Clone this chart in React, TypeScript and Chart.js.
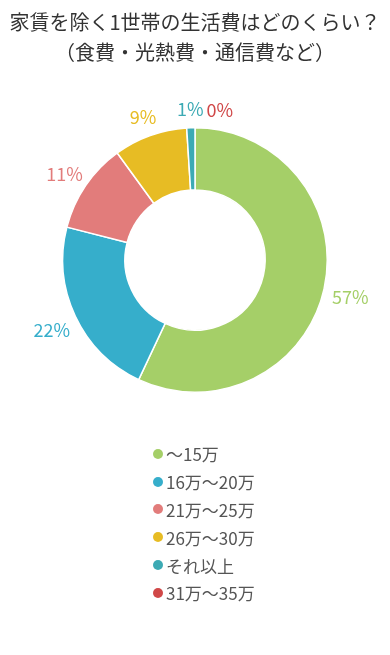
import React, { useEffect, useRef } from "react";
import { Chart, registerables } from "chart.js";

Chart.register(...registerables);

const titleLines = ["家賃を除く1世帯の生活費はどのくらい？", "（食費・光熱費・通信費など）"];
const categories = ["～15万", "16万～20万", "21万～25万", "26万～30万", "それ以上", "31万～35万"];
const values = [57, 22, 11, 9, 1, 0];
const colors = ["#a5cf68", "#36aecb", "#e27c7b", "#e7bc24", "#3caab4", "#d04848"];

const FONT = '"Noto Sans CJK JP", "Noto Sans", sans-serif';

const labelPlugin = {
  id: "outsideLabels",
  afterDatasetsDraw(chart: any) {
    const ctx = chart.ctx;
    const meta = chart.getDatasetMeta(0);
    const boxes: { l: number; r: number; t: number; b: number }[] = [];
    ctx.save();
    ctx.font = `18px ${FONT}`;
    ctx.textAlign = "center";
    ctx.textBaseline = "middle";
    meta.data.forEach((arc: any, i: number) => {
      const p = arc.getProps(["x", "y", "startAngle", "endAngle", "outerRadius"], true);
      const mid = (p.startAngle + p.endAngle) / 2;
      const r = p.outerRadius + 18 + 9 * Math.abs(Math.cos(mid));
      let x = p.x + Math.cos(mid) * r;
      const y = p.y + Math.sin(mid) * r + 3 * Math.abs(Math.cos(mid));
      const text = `${values[i]}%`;
      const w = ctx.measureText(text).width;
      const h = 16;
      for (const b of boxes) {
        const l = x - w / 2;
        const rr = x + w / 2;
        if (l < b.r && rr > b.l && y - h / 2 < b.b && y + h / 2 > b.t) {
          x = b.r + 3 + w / 2;
        }
      }
      boxes.push({ l: x - w / 2, r: x + w / 2, t: y - h / 2, b: y + h / 2 });
      ctx.fillStyle = colors[i];
      ctx.fillText(text, x, y);
    });
    ctx.restore();
  },
};

export default function App() {
  const ref = useRef<HTMLCanvasElement>(null);
  useEffect(() => {
    if (!ref.current) return;
    const chart = new Chart(ref.current, {
      type: "doughnut",
      data: {
        labels: categories,
        datasets: [
          {
            data: values,
            backgroundColor: colors,
            borderColor: "#ffffff",
            borderWidth: 1.5,
          },
        ],
      },
      options: {
        responsive: false,
        animation: false,
        cutout: "53%",
        layout: { padding: { top: 127, bottom: 262, left: 0, right: 0 } },
        plugins: {
          legend: { display: false },
          tooltip: { enabled: false },
          title: { display: false },
        },
      },
      plugins: [labelPlugin],
    } as any);
    return () => chart.destroy();
  }, []);

  return (
    <div
      style={{
        position: "absolute",
        left: 0,
        top: 0,
        width: 390,
        height: 655,
        background: "#fff",
        fontFamily: FONT,
        overflow: "hidden",
      }}
    >
      <canvas ref={ref} width={390} height={655} style={{ position: "absolute", left: 0, top: 0 }} />
      <div
        style={{
          position: "absolute",
          top: 7,
          left: 0,
          width: 390,
          textAlign: "center",
          fontSize: 20,
          lineHeight: "30px",
          color: "#333",
        }}
      >
        {titleLines.map((t, i) => (
          <div key={i}>{t}</div>
        ))}
      </div>
      <div style={{ position: "absolute", top: 440, left: 153 }}>
        {categories.map((c, i) => (
          <div
            key={i}
            style={{
              display: "flex",
              alignItems: "center",
              height: 27.8,
              fontSize: 17,
              color: "#555",
              whiteSpace: "nowrap",
            }}
          >
            <span
              style={{
                display: "inline-block",
                width: 10,
                height: 10,
                borderRadius: 5,
                background: colors[i],
                marginRight: 3,
              }}
            />
            <span>{c}</span>
          </div>
        ))}
      </div>
    </div>
  );
}
